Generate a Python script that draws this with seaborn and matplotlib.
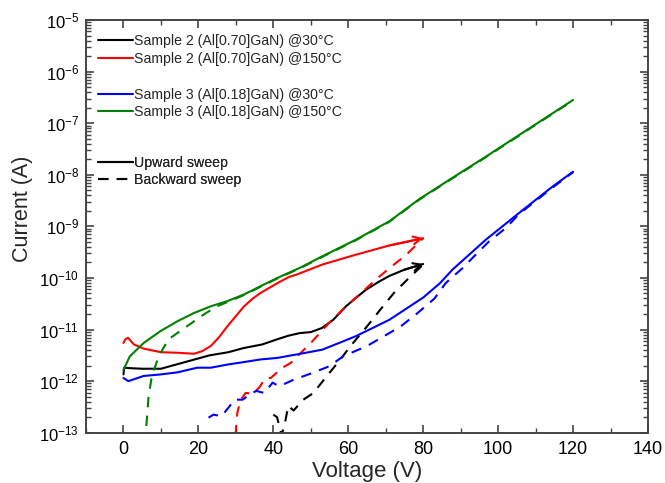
import numpy as np
import pandas as pd
import matplotlib
matplotlib.use("Agg")
import matplotlib.pyplot as plt
from matplotlib.lines import Line2D
from matplotlib.ticker import MultipleLocator, LogLocator, NullFormatter
import seaborn as sns

# ---------------- data (voltage in V, current exponent log10(I/A)) ----------------
s2_30_up_v = [0, 0.2, 2, 5, 8, 10, 14, 19, 23, 28, 32, 37, 41, 44, 47, 50, 53, 56, 59.4, 62, 64.7, 68, 71, 75, 80]
s2_30_up_log = [-11.87, -11.74, -11.75, -11.76, -11.76, -11.76, -11.68, -11.58, -11.50, -11.44, -11.36, -11.29,
                -11.19, -11.12, -11.07, -11.05, -10.97, -10.81, -10.55, -10.39, -10.23, -10.08, -9.96, -9.84, -9.73]

s2_150_up_v = [0, 0.5, 1.2, 2.8, 5.4, 10, 14.4, 18.8, 21, 23.3, 25.5, 27.7, 30, 32.2, 34.5, 36.6, 41.1, 44.2,
               46.4, 53.1, 62, 71, 80]
s2_150_up_log = [-11.26, -11.19, -11.16, -11.29, -11.37, -11.44, -11.45, -11.47, -11.42, -11.32, -11.15, -10.94,
                 -10.74, -10.55, -10.40, -10.29, -10.10, -9.98, -9.93, -9.74, -9.55, -9.37, -9.23]

s3_30_up_v = [0, 1.3, 5.4, 10, 14.4, 19.7, 23.3, 27.7, 32.2, 36.6, 41.1, 47.2, 53.1, 62, 71, 80, 84.5, 87.8,
              96.7, 105.6, 114.5, 120]
s3_30_up_log = [-11.94, -12.0, -11.90, -11.87, -11.83, -11.74, -11.74, -11.68, -11.63, -11.58, -11.55, -11.47,
                -11.39, -11.13, -10.81, -10.38, -10.10, -9.84, -9.26, -8.74, -8.23, -7.94]

s3_150_up_v = [0, 1.7, 5.4, 9.9, 14.4, 18.8, 23.3, 27.7, 32.2, 36.6, 41.1, 47.2, 53.1, 62, 71, 79, 87.8, 96.7,
               105.6, 114.5, 120]
s3_150_up_log = [-11.78, -11.52, -11.26, -11.03, -10.84, -10.68, -10.55, -10.45, -10.32, -10.16, -10.0, -9.80,
                 -9.58, -9.26, -8.90, -8.47, -8.06, -7.65, -7.23, -6.81, -6.55]

s2_30_down_v = [40, 41, 42.2, 43.1, 44, 45.4, 48, 50.7, 54.3, 57.9, 60.6, 65, 68.6, 72.2, 75.8, 80]
s2_30_down_log = [-12.65, -12.70, -13.05, -12.81, -12.48, -12.57, -12.36, -12.23, -11.90, -11.58, -11.32,
                  -10.94, -10.61, -10.29, -10.03, -9.74]

s2_150_down_v = [29.9, 30.4, 31.3, 32.6, 34.4, 36.2, 37.9, 39.3, 42.4, 44.6, 46, 50.4, 54.9, 59.4, 63, 67.4,
                 71, 75.5, 80]
s2_150_down_log = [-13.05, -12.61, -12.36, -12.23, -12.24, -12.13, -11.94, -11.94, -11.74, -11.65, -11.55,
                   -11.23, -10.87, -10.55, -10.32, -10.03, -9.81, -9.55, -9.23]

s3_30_down_v = [22.7, 24, 26.2, 28.4, 29.7, 31.8, 33.1, 35.4, 37.6, 39.8, 41.6, 45.2, 50.5, 55, 58.6, 65, 69.5,
                74, 78.5, 83, 86, 90.5, 94, 97.6, 102.1, 105.6, 114.5, 120]
s3_30_down_log = [-12.71, -12.65, -12.68, -12.48, -12.36, -12.36, -12.29, -12.19, -12.23, -12.03, -12.10,
                  -11.98, -11.84, -11.71, -11.52, -11.32, -11.13, -10.94, -10.68, -10.40, -10.10, -9.81,
                  -9.55, -9.29, -9.03, -8.76, -8.25, -7.95]

s3_150_down_v = [6.1, 6.7, 7.6, 9.4, 12, 16.9, 21.4, 24.9, 27.7, 32.2, 36.6, 41.1, 47.2, 53.1, 62, 71, 79,
                 87.8, 96.7, 105.6, 114.5, 120]
s3_150_down_log = [-12.87, -12.29, -11.90, -11.52, -11.19, -10.94, -10.71, -10.55, -10.47, -10.33, -10.17,
                   -10.01, -9.81, -9.59, -9.27, -8.91, -8.48, -8.07, -7.66, -7.24, -6.82, -6.56]

labels = ["Sample 2 (Al[0.70]GaN) @30°C", "Sample 2 (Al[0.70]GaN) @150°C",
          "Sample 3 (Al[0.18]GaN) @30°C", "Sample 3 (Al[0.18]GaN) @150°C"]
sweeps = ["Upward sweep", "Backward sweep"]
colors = ["#000000", "#ff0000", "#0000ff", "#008000"]

# ---------------- long table ----------------
parts = [
    (labels[0], sweeps[0], s2_30_up_v, s2_30_up_log),
    (labels[1], sweeps[0], s2_150_up_v, s2_150_up_log),
    (labels[2], sweeps[0], s3_30_up_v, s3_30_up_log),
    (labels[3], sweeps[0], s3_150_up_v, s3_150_up_log),
    (labels[0], sweeps[1], s2_30_down_v, s2_30_down_log),
    (labels[1], sweeps[1], s2_150_down_v, s2_150_down_log),
    (labels[2], sweeps[1], s3_30_down_v, s3_30_down_log),
    (labels[3], sweeps[1], s3_150_down_v, s3_150_down_log),
]
frames = []
for lab, sw, v, lg in parts:
    frames.append(pd.DataFrame({"V": v, "I": 10.0 ** np.array(lg), "series": lab, "sweep": sw}))
df = pd.concat(frames, ignore_index=True)

# ---------------- style ----------------
sns.set_style("ticks")
plt.rcParams["font.family"] = ["Liberation Sans", "DejaVu Sans"]
plt.rcParams["mathtext.fontset"] = "custom"
plt.rcParams["mathtext.rm"] = "Liberation Sans"
plt.rcParams["mathtext.it"] = "Liberation Sans:italic"

fig = plt.figure(figsize=(6.65, 4.83), dpi=100)
ax = fig.add_axes([86 / 665, 1 - 432.7 / 483, (648 - 86) / 665, (432.7 - 20) / 483])

palette = dict(zip(labels, colors))
dashes = {sweeps[0]: "", sweeps[1]: (5, 4)}
sns.lineplot(data=df, x="V", y="I", hue="series", style="sweep", palette=palette, dashes=dashes,
             estimator=None, sort=False, legend=False, linewidth=1.5, ax=ax)

ax.set_yscale("log")
ax.set_xlim(-10, 140)
ax.set_ylim(1e-13, 1e-5)

# arrow heads at ends of the upward sweeps of sample 2
for v, lg, c in [(s2_30_up_v, s2_30_up_log, colors[0]), (s2_150_up_v, s2_150_up_log, colors[1])]:
    ax.annotate("", xy=(v[-1], 10 ** lg[-1]), xytext=(v[-2], 10 ** lg[-2]),
                arrowprops=dict(arrowstyle="->", color=c, lw=1.5, mutation_scale=14, shrinkA=0, shrinkB=0))

ax.xaxis.set_major_locator(MultipleLocator(20))
ax.xaxis.set_minor_locator(MultipleLocator(10))
ax.yaxis.set_major_locator(LogLocator(base=10, numticks=20))
ax.yaxis.set_minor_locator(LogLocator(base=10, subs=np.arange(2, 10), numticks=20))
ax.yaxis.set_minor_formatter(NullFormatter())

ax.tick_params(which="both", direction="in", top=True, right=True, colors="#444444",
               labelcolor="black")
ax.tick_params(axis="x", labelsize=13)
ax.tick_params(axis="y", labelsize=12)
ax.tick_params(which="major", length=6, width=1.2)
ax.tick_params(which="minor", length=3.5, width=1.0)
ax.tick_params(axis="x", which="major", pad=6)
ax.tick_params(axis="y", which="major", pad=5)
for sp in ax.spines.values():
    sp.set_color("#444444")
    sp.set_linewidth(1.4)

ax.set_xlabel("Voltage (V)", fontsize=16, labelpad=2)
ax.set_ylabel("Current (A)", fontsize=15.5)
ax.yaxis.set_label_coords((33 - 86) / 562, (432.7 - 209) / 412.7)

# ---------------- legends ----------------
def make_legend(handles, texts, top_px, spacing):
    leg = ax.legend(handles, texts, loc="upper left",
                    bbox_to_anchor=(98 / 665, 1 - top_px / 483), bbox_transform=fig.transFigure,
                    frameon=False, fontsize=10.2, handlelength=2.45, handletextpad=0.12,
                    borderpad=0, borderaxespad=0, labelspacing=spacing)
    ax.add_artist(leg)
    return leg

make_legend([Line2D([], [], color=colors[0], lw=1.5), Line2D([], [], color=colors[1], lw=1.5)],
            labels[:2], 34, 0.26)
make_legend([Line2D([], [], color=colors[2], lw=1.5), Line2D([], [], color=colors[3], lw=1.5)],
            labels[2:], 87.5, 0.24)
make_legend([Line2D([], [], color="black", lw=1.5),
             Line2D([], [], color="black", lw=1.5, dashes=(5, 4))],
            sweeps, 156, 0.2)

fig.savefig("out.png", dpi=100)
